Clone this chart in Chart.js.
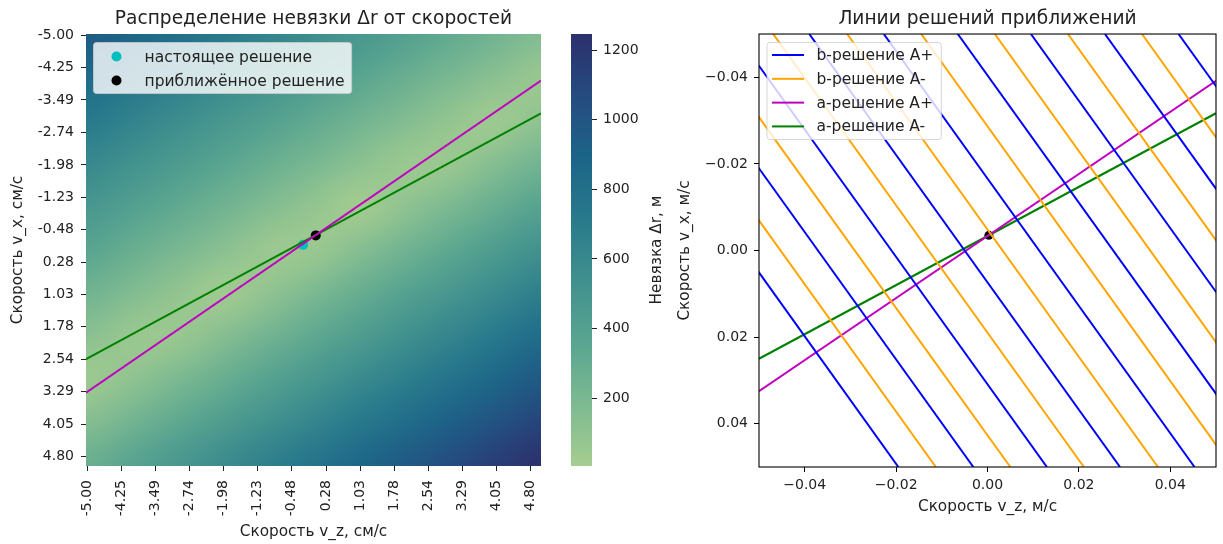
<!DOCTYPE html>
<html lang="ru">
<head>
<meta charset="utf-8">
<title>Невязка Δr и линии решений</title>
<script src="https://cdn.jsdelivr.net/npm/chart.js@4.4.1/dist/chart.umd.min.js"></script>
<style>
  html, body { margin: 0; padding: 0; background: #fff; }
  #figure { position: relative; width: 1223px; height: 544px; overflow: hidden; }
  #figure canvas { position: absolute; top: 0; }
</style>
</head>
<body>
<div id="figure">
  <canvas id="heat" width="560" height="544" style="left:0"></canvas>
  <canvas id="cbar" width="160" height="544" style="left:560px"></canvas>
  <canvas id="lines" width="563" height="544" style="left:660px"></canvas>
</div>
<script>
Chart.defaults.font.family = "'DejaVu Sans', 'Noto Sans', sans-serif";
Chart.defaults.color = '#222';
Chart.defaults.animation = false;
Chart.defaults.events = [];
Chart.defaults.plugins.legend.display = false;
Chart.defaults.plugins.tooltip.enabled = false;

const INK = '#222';

// ---------- residual map, cm/s ----------
const vTickLabels = ['-5.00', '-4.25', '-3.49', '-2.74', '-1.98', '-1.23', '-0.48',
                     '0.28', '1.03', '1.78', '2.54', '3.29', '4.05', '4.80'];
const vTicks = vTickLabels.map(Number);
const heatEdgesCm = [-5.025, 5.025];

const gridVz = [-5, -4, -3, -2, -1, 0, 1, 2, 3, 4, 5];
const gridVx = [-5, -4, -3, -2, -1, 0, 1, 2, 3, 4, 5];
// Δr, m — one row per v_x value, one column per v_z value
const residual = [
  [964, 883, 803, 722, 642, 562, 481, 401, 321, 241, 162],
  [844, 763, 683, 602, 522, 442, 361, 281, 201, 122,  50],
  [724, 643, 563, 482, 402, 322, 241, 161,  82,  24, 102],
  [604, 523, 443, 362, 282, 202, 121,  43,  51, 147, 244],
  [484, 404, 323, 243, 162,  82,   6,  96, 194, 291, 388],
  [365, 284, 204, 123,  42,  46, 144, 241, 338, 436, 533],
  [245, 165,  85,  12,  94, 191, 289, 386, 483, 580, 678],
  [127,  49,  48, 143, 239, 336, 434, 531, 628, 725, 823],
  [ 30,  96, 191, 287, 384, 481, 579, 676, 773, 870, 968],
  [144, 239, 335, 432, 529, 626, 724, 821, 918, 1015, 1113],
  [287, 384, 480, 577, 674, 771, 869, 966, 1063, 1160, 1246]
];
const residualRange = [5, 1246];
const colorbarTicks = [200, 400, 600, 800, 1000, 1200];

const trueSolutionCm = [-0.23, -0.12];   // [v_z, v_x]
const approxSolutionCm = [0.05, -0.34];
const aLineVzCm = [-5.025, 5.025];
const aPlusVxCm = [3.32, -3.94];
const aMinusVxCm = [2.54, -3.18];

// ---------- solution lines, m/s ----------
const axisRangeMs = [-0.05, 0.05];
const axisTicksMs = [-0.04, -0.02, 0, 0.02, 0.04];
const axisTickLabelsMs = ['\u22120.04', '\u22120.02', '0.00', '0.02', '0.04'];
const bEdgeVx = [-0.05, 0.05];
const bPlusVzTop    = [-0.0874, -0.0711, -0.0550, -0.0390, -0.0227, -0.0065, 0.0095, 0.0257, 0.0418];
const bPlusVzBottom = [-0.0195, -0.0031,  0.0130,  0.0290,  0.0453,  0.0615, 0.0775, 0.0937, 0.1099];
const bMinusVzTop    = [-0.0793, -0.0631, -0.0469, -0.0307, -0.0145, 0.0016, 0.0176, 0.0338];
const bMinusVzBottom = [-0.0113,  0.0050,  0.0211,  0.0373,  0.0535, 0.0696, 0.0856, 0.1018];
const aLineVz = [-0.05, 0.05];
const aPlusVx = [0.0325, -0.0392];
const aMinusVx = [0.0250, -0.0317];
const approxSolutionMs = [0.0003, -0.0035];

// ---------- colours ----------
const crestStops = [
  [0.000, '#a5cd90'], [0.143, '#7dba91'], [0.286, '#59a590'], [0.429, '#40908e'],
  [0.571, '#287a8c'], [0.714, '#1c6488'], [0.857, '#254b7f'], [1.000, '#2c306c']
];
const COLORS = { bPlus: '#0000ff', bMinus: '#ffa500', aPlus: '#bf00bf', aMinus: '#008000',
                 trueSol: '#00bfbf', approxSol: '#000000' };

function hexToRgb(h) {
  const n = parseInt(h.slice(1), 16);
  return [(n >> 16) & 255, (n >> 8) & 255, n & 255];
}
function crest(t) {
  t = Math.min(1, Math.max(0, t));
  for (let i = 1; i < crestStops.length; i++) {
    const [t1, c1] = crestStops[i];
    if (t <= t1) {
      const [t0, c0] = crestStops[i - 1];
      const f = (t - t0) / (t1 - t0);
      const a = hexToRgb(c0), b = hexToRgb(c1);
      return a.map((v, k) => Math.round(v + (b[k] - v) * f));
    }
  }
  return hexToRgb(crestStops[crestStops.length - 1][1]);
}
const residualColor = v => crest((v - residualRange[0]) / (residualRange[1] - residualRange[0]));

let heatImage = null;
function getHeatImage() {
  if (heatImage) return heatImage;
  const c = document.createElement('canvas');
  c.width = gridVz.length;
  c.height = gridVx.length;
  const g = c.getContext('2d');
  const im = g.createImageData(c.width, c.height);
  residual.forEach((row, j) => row.forEach((v, i) => {
    const [r, gg, b] = residualColor(v);
    const k = (j * c.width + i) * 4;
    im.data[k] = r; im.data[k + 1] = gg; im.data[k + 2] = b; im.data[k + 3] = 255;
  }));
  g.putImageData(im, 0, 0);
  heatImage = c;
  return c;
}

// ---------- helpers ----------
const fixWidth = w => scale => { scale.width = w; };
const fixHeight = h => scale => { scale.height = h; };
const setTicks = vals => scale => { scale.ticks = vals.map(value => ({ value })); };

function lineDataset(label, color, xs, ys) {
  return {
    label, data: xs.map((x, i) => ({ x, y: ys[i] })),
    showLine: true, borderColor: color, backgroundColor: color, borderWidth: 2,
    pointRadius: 0, tension: 0, clip: 0, order: 0
  };
}
function pointDataset(label, color, xy, radius) {
  return {
    label, data: [{ x: xy[0], y: xy[1] }], pointRadius: radius,
    pointBackgroundColor: color, backgroundColor: color, pointBorderWidth: 0,
    borderWidth: 0, clip: 0, order: 1, legendItem: true
  };
}
function legendBox(ctx, x, y, w, h) {
  ctx.beginPath();
  ctx.roundRect(x, y, w, h, 3);
  ctx.fillStyle = 'rgba(255,255,255,0.8)';
  ctx.fill();
  ctx.strokeStyle = 'rgba(204,204,204,0.8)';
  ctx.lineWidth = 1;
  ctx.stroke();
}
const tickFont = { size: 14 };
const labelFont = { size: 15.3 };
const titleFont = { size: 18.6, weight: 'normal' };
const LEGEND_FONT = "15.5px 'DejaVu Sans'";

// ---------- plugins ----------
const heatmapLayer = {
  id: 'heatmapLayer',
  beforeDatasetsDraw(chart) {
    const { ctx, chartArea: a, scales: { x, y } } = chart;
    const sx = gridVz[1] - gridVz[0], sy = gridVx[1] - gridVx[0];
    const x0 = x.getPixelForValue(gridVz[0] - sx / 2);
    const x1 = x.getPixelForValue(gridVz[gridVz.length - 1] + sx / 2);
    const y0 = y.getPixelForValue(gridVx[0] - sy / 2);
    const y1 = y.getPixelForValue(gridVx[gridVx.length - 1] + sy / 2);
    ctx.save();
    ctx.beginPath();
    ctx.rect(a.left, a.top, a.width, a.height);
    ctx.clip();
    ctx.imageSmoothingEnabled = true;
    ctx.imageSmoothingQuality = 'high';
    ctx.drawImage(getHeatImage(), x0, y0, x1 - x0, y1 - y0);
    ctx.restore();
  }
};

const heatLegend = {
  id: 'heatLegend',
  afterDraw(chart) {
    const { ctx, chartArea: a } = chart;
    const items = chart.data.datasets.filter(d => d.legendItem);
    ctx.save();
    ctx.font = LEGEND_FONT;
    const tw = Math.max(...items.map(d => ctx.measureText(d.label).width));
    const x = a.left + 7.5, y = a.top + 8.5;
    legendBox(ctx, x, y, 51 + tw + 7, 51);
    items.forEach((d, i) => {
      const cy = y + 14 + i * 24;
      ctx.beginPath();
      ctx.arc(x + 23, cy, 5, 0, Math.PI * 2);
      ctx.fillStyle = d.pointBackgroundColor;
      ctx.fill();
      ctx.fillStyle = INK;
      ctx.textBaseline = 'middle';
      ctx.fillText(d.label, x + 51, cy + 1);
    });
    ctx.restore();
  }
};

// colour bar: gradient strip plus its rotated caption
const colorbarFill = {
  id: 'colorbarFill',
  beforeDatasetsDraw(chart) {
    const { ctx, chartArea: a, scales: { y } } = chart;
    const yLo = y.getPixelForValue(residualRange[0]);
    const yHi = y.getPixelForValue(residualRange[1]);
    const g = ctx.createLinearGradient(0, yLo, 0, yHi);
    crestStops.forEach(([t, col]) => g.addColorStop(t, col));
    ctx.save();
    ctx.fillStyle = g;
    ctx.fillRect(a.left, yHi, a.width, yLo - yHi);
    ctx.restore();
  },
  afterDraw(chart) {
    const { ctx, chartArea: a } = chart;
    ctx.save();
    ctx.translate(a.right + 65, (a.top + a.bottom) / 2);
    ctx.rotate(-Math.PI / 2);
    ctx.font = "15.3px 'DejaVu Sans'";
    ctx.fillStyle = INK;
    ctx.textAlign = 'center';
    ctx.textBaseline = 'middle';
    ctx.fillText('Невязка Δr, м', 0, 0);
    ctx.restore();
  }
};

const axesFrame = {
  id: 'axesFrame',
  afterDatasetsDraw(chart) {
    const { ctx, chartArea: a } = chart;
    ctx.save();
    ctx.strokeStyle = '#000';
    ctx.lineWidth = 1.1;
    ctx.strokeRect(a.left, a.top, a.width, a.height);
    ctx.restore();
  }
};

const linesLegend = {
  id: 'linesLegend',
  afterDraw(chart) {
    const { ctx, chartArea: a } = chart;
    const seen = new Set();
    const items = chart.data.datasets.filter(d => d.showLine && !seen.has(d.label) && seen.add(d.label));
    ctx.save();
    ctx.font = LEGEND_FONT;
    const tw = Math.max(...items.map(d => ctx.measureText(d.label).width));
    const x = a.left + 8, y = a.top + 8.5;
    legendBox(ctx, x, y, 49.5 + tw + 8, 97);
    items.forEach((d, i) => {
      const cy = y + 12.5 + i * 23.8;
      ctx.beginPath();
      ctx.moveTo(x + 5, cy);
      ctx.lineTo(x + 37, cy);
      ctx.strokeStyle = d.borderColor;
      ctx.lineWidth = 2;
      ctx.stroke();
      ctx.fillStyle = INK;
      ctx.textBaseline = 'middle';
      ctx.fillText(d.label, x + 49.5, cy + 1);
    });
    ctx.restore();
  }
};

// ---------- residual heatmap ----------
new Chart(document.getElementById('heat'), {
  type: 'scatter',
  data: {
    datasets: [
      pointDataset('настоящее решение', COLORS.trueSol, trueSolutionCm, 5),
      pointDataset('приближённое решение', COLORS.approxSol, approxSolutionCm, 5),
      lineDataset('a-решение A+', COLORS.aPlus, aLineVzCm, aPlusVxCm),
      lineDataset('a-решение A-', COLORS.aMinus, aLineVzCm, aMinusVxCm)
    ]
  },
  options: {
    responsive: false,
    layout: { padding: { left: 0, right: 19, top: 0, bottom: 0 }, autoPadding: false },
    plugins: {
      title: { display: true, text: 'Распределение невязки Δr от скоростей', fullSize: false,
               font: titleFont, color: INK, padding: { top: 7.7, bottom: 4 } }
    },
    scales: {
      x: {
        type: 'linear', min: heatEdgesCm[0], max: heatEdgesCm[1],
        afterBuildTicks: setTicks(vTicks), afterFit: fixHeight(78),
        ticks: { autoSkip: false, minRotation: 90, maxRotation: 90, padding: 9, font: tickFont,
                 color: INK, callback: (v, i) => vTickLabels[i] },
        grid: { drawOnChartArea: false, tickLength: 5, tickColor: INK, tickWidth: 1 },
        border: { display: false },
        title: { display: true, text: 'Скорость v_z, см/с', font: labelFont, color: INK,
                 padding: { top: 0, bottom: 3 } }
      },
      y: {
        type: 'linear', reverse: true, min: heatEdgesCm[0], max: heatEdgesCm[1],
        afterBuildTicks: setTicks(vTicks), afterFit: fixWidth(86),
        ticks: { autoSkip: false, padding: 7, font: tickFont, color: INK,
                 callback: (v, i) => vTickLabels[i] },
        grid: { drawOnChartArea: false, tickLength: 5, tickColor: INK, tickWidth: 1 },
        border: { display: false },
        title: { display: true, text: 'Скорость v_x, см/с', font: labelFont, color: INK,
                 padding: { top: 9, bottom: 0 } }
      }
    }
  },
  plugins: [heatmapLayer, heatLegend]
});

// ---------- colour bar ----------
new Chart(document.getElementById('cbar'), {
  type: 'bar',
  data: {
    labels: [''],
    datasets: [{ data: [residualRange], backgroundColor: 'rgba(0,0,0,0)', borderWidth: 0,
                 barPercentage: 1, categoryPercentage: 1 }]
  },
  options: {
    responsive: false,
    layout: { padding: { left: 11, right: 0, top: 34, bottom: 78 }, autoPadding: false },
    scales: {
      x: { display: false },
      y: {
        position: 'right', min: residualRange[0], max: residualRange[1],
        afterBuildTicks: setTicks(colorbarTicks), afterFit: fixWidth(128),
        ticks: { padding: 6, font: tickFont, color: INK, callback: v => String(v) },
        grid: { drawOnChartArea: false, tickLength: 5, tickColor: INK, tickWidth: 1 },
        border: { display: false }
      }
    }
  },
  plugins: [colorbarFill]
});

// ---------- solution lines ----------
const solutionDatasets = [];
bPlusVzTop.forEach((t, i) => solutionDatasets.push(
  lineDataset('b-решение A+', COLORS.bPlus, [t, bPlusVzBottom[i]], bEdgeVx)));
bMinusVzTop.forEach((t, i) => solutionDatasets.push(
  lineDataset('b-решение A-', COLORS.bMinus, [t, bMinusVzBottom[i]], bEdgeVx)));
solutionDatasets.push(lineDataset('a-решение A+', COLORS.aPlus, aLineVz, aPlusVx));
solutionDatasets.push(lineDataset('a-решение A-', COLORS.aMinus, aLineVz, aMinusVx));
solutionDatasets.push(pointDataset('приближённое решение', COLORS.approxSol, approxSolutionMs, 4.5));

new Chart(document.getElementById('lines'), {
  type: 'scatter',
  data: { datasets: solutionDatasets },
  options: {
    responsive: false,
    layout: { padding: { left: 0, right: 7, top: 0, bottom: 0 }, autoPadding: false },
    plugins: {
      title: { display: true, text: 'Линии решений приближений', fullSize: false,
               font: titleFont, color: INK, padding: { top: 7.7, bottom: 4 } }
    },
    scales: {
      x: {
        type: 'linear', min: axisRangeMs[0], max: axisRangeMs[1],
        afterBuildTicks: setTicks(axisTicksMs), afterFit: fixHeight(77),
        ticks: { autoSkip: false, maxRotation: 0, padding: 5, font: tickFont, color: INK,
                 callback: (v, i) => axisTickLabelsMs[i] },
        grid: { drawOnChartArea: false, tickLength: 5, tickColor: '#000', tickWidth: 1 },
        border: { display: false },
        title: { display: true, text: 'Скорость v_z, м/с', font: labelFont, color: INK,
                 padding: { top: 0, bottom: 28 } }
      },
      y: {
        type: 'linear', reverse: true, min: axisRangeMs[0], max: axisRangeMs[1],
        afterBuildTicks: setTicks(axisTicksMs), afterFit: fixWidth(99),
        ticks: { autoSkip: false, padding: 6, font: tickFont, color: INK,
                 callback: (v, i) => axisTickLabelsMs[i] },
        grid: { drawOnChartArea: false, tickLength: 5, tickColor: '#000', tickWidth: 1 },
        border: { display: false },
        title: { display: true, text: 'Скорость v_x, м/с', font: labelFont, color: INK,
                 padding: { top: 16, bottom: 0 } }
      }
    }
  },
  plugins: [axesFrame, linesLegend]
});
</script>
</body>
</html>
